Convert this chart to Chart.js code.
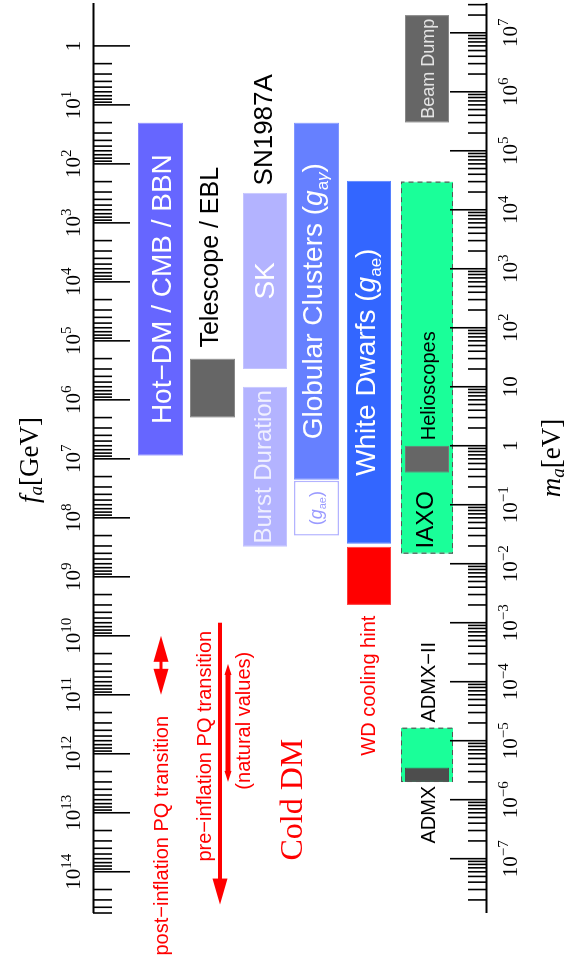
<!DOCTYPE html>
<html>
<head>
<meta charset="utf-8">
<script src="https://cdn.jsdelivr.net/npm/chart.js@4"></script>
<style>
  html, body { margin: 0; padding: 0; background: #fff; }
  body { width: 570px; height: 962px; overflow: hidden; position: relative; }
  /* the plot is laid out in landscape and turned a quarter turn */
  #wrap { position: absolute; left: 0; top: 0; width: 962px; height: 570px;
          transform-origin: 0 0; transform: translate(0, 962px) rotate(-90deg); }
</style>
</head>
<body>
<div id="wrap"><canvas id="plot" width="962" height="570"></canvas></div>
<script>
// f_a [GeV] = FA_MA / m_a [eV]
const FA_MA = 6.0e6;
const MASS_MIN = 1.2e-8, MASS_MAX = 3.2e7;

// excluded / explored ranges of the axion mass, eV
const barNames = ['Hot-DM / CMB / BBN', 'Telescope / EBL', 'SK', 'Burst Duration',
  'Globular Clusters', 'Globular Clusters gae', 'White Dwarfs', 'WD cooling hint',
  'Helioscopes', 'CAST', 'Beam Dump', 'ADMX-II', 'ADMX'];
const massLow  = [0.68, 3.0, 20, 0.0194, 0.265, 0.030, 0.0218, 0.0020, 0.0148, 0.35, 3.0e5, 2.0e-6, 2.0e-6];
const massHigh = [3.0e5, 30, 1.94e4, 10, 3.0e5, 0.255, 3.1e4, 0.0194, 3.0e4, 1.0, 2.0e7, 1.66e-5, 3.5e-6];
const barLane  = [0, 1, 2, 2, 3, 3, 4, 4, 5, 5, 5, 5, 5];

// axis ticks
const massTicks = [1e-7, 1e-6, 1e-5, 1e-4, 1e-3, 1e-2, 1e-1, 1, 10, 1e2, 1e3, 1e4, 1e5, 1e6, 1e7];
const massTickLabels = ['10^−7', '10^−6', '10^−5', '10^−4', '10^−3', '10^−2', '10^−1', '1', '10',
  '10^2', '10^3', '10^4', '10^5', '10^6', '10^7'];
const faTicks = [1, 1e1, 1e2, 1e3, 1e4, 1e5, 1e6, 1e7, 1e8, 1e9, 1e10, 1e11, 1e12, 1e13, 1e14];
const faTickLabels = ['1', '10^1', '10^2', '10^3', '10^4', '10^5', '10^6', '10^7', '10^8', '10^9',
  '10^10', '10^11', '10^12', '10^13', '10^14'];

// red arrows, ranges in f_a [GeV]
const arrowNames = ['post-inflation', 'pre-inflation', 'natural values'];
const arrowFaLow  = [1e10, 6e9, 3e10];
const arrowFaHigh = [1e11, 3.6e14, 3e12];

// free labels, centred at a mass [eV]
const noteText = ['Telescope / EBL', 'SN1987A', 'Helioscopes', 'IAXO', 'ADMX−II', 'ADMX',
  'WD cooling hint', 'post−inflation PQ transition', 'pre−inflation PQ transition',
  '(natural values)', 'Cold DM'];
const noteMass = [1.57e3, 2.27e5, 10.4, 0.0557, 9.8e-5, 5.57e-7, 8.55e-5, 2.45e-7, 8.07e-6, 2.18e-5, 1.0e-6];

// ---- layout / style ----
const SANS = '"Liberation Sans", Arial, sans-serif';
const SERIF = '"Liberation Serif", "Times New Roman", serif';
const LANES = [160.5, 212.5, 265, 316.5, 369, 427];   // column centres across the plot (px)

const barStyle = {
  'Hot-DM / CMB / BBN':    { bg: '#6666ff', bd: '#8585ff', w: 45 },
  'Telescope / EBL':       { bg: '#666666', bd: '#888888', w: 45 },
  'SK':                    { bg: '#b3b3ff', bd: '#c4c4ff', w: 44 },
  'Burst Duration':        { bg: '#b3b3ff', bd: '#c4c4ff', w: 44 },
  'Globular Clusters':     { bg: '#6680ff', bd: '#8096ff', w: 45 },
  'Globular Clusters gae': { bg: '#ffffff', bd: '#b3b3ff', w: 45 },
  'White Dwarfs':          { bg: '#3366ff', bd: '#5580ff', w: 44 },
  'WD cooling hint':       { bg: '#ff0000', bd: '#ff3b3b', w: 44 },
  'Helioscopes':           { bg: '#1aff99', bd: '#1aff99', w: 52, dashed: true },
  'CAST':                  { bg: '#666666', bd: '#777777', w: 44 },
  'Beam Dump':             { bg: '#666666', bd: '#888888', w: 44 },
  'ADMX-II':               { bg: '#1aff99', bd: '#1aff99', w: 52, dashed: true },
  'ADMX':                  { bg: '#4d4d4d', bd: '#4d4d4d', w: 44 }
};

const sans = (px, it) => (it ? 'italic ' : '') + px + 'px ' + SANS;
const serif = (px, it) => (it ? 'italic ' : '') + px + 'px ' + SERIF;

function gLabel(size, sub, color) {
  const s = Math.round(size * 0.62);
  const parts = [{ t: '(', f: sans(size) }, { t: 'g', f: sans(size, true) }];
  sub.forEach(c => parts.push({ t: c[0], f: sans(s, c[1]), dy: size * 0.2 }));
  parts.push({ t: ')', f: sans(size) });
  parts.forEach(p => p.c = color);
  return parts;
}

// labels written inside the bars: bar name -> [parts, cap centre, cap height]
const barText = {
  'Hot-DM / CMB / BBN': [[{ t: 'Hot−DM / CMB / BBN', f: sans(28), c: '#fff' }], 161, 28],
  'SK': [[{ t: 'SK', f: sans(28), c: '#fff' }], 264, 28],
  'Burst Duration': [[{ t: 'Burst Duration', f: sans(24), c: '#f0f0ff' }], 262.5, 24],
  'Globular Clusters': [[{ t: 'Globular Clusters ', f: sans(28), c: '#fff' }]
    .concat(gLabel(28, [['a', false], ['γ', true]], '#fff')), 312, 28],
  'Globular Clusters gae': [gLabel(18, [['ae', false]], '#9a9aff'), 316, 18],
  'White Dwarfs': [[{ t: 'White Dwarfs ', f: sans(28), c: '#fff' }]
    .concat(gLabel(28, [['ae', false]], '#fff')), 365, 28],
  'Beam Dump': [[{ t: 'Beam Dump', f: sans(18), c: '#e4e4e4' }], 427.5, 18]
};

const noteStyle = [
  { lane: 209, size: 25, c: '#000' }, { lane: 262.5, size: 26, c: '#000' },
  { lane: 427.5, size: 20, c: '#000' }, { lane: 424, size: 24, c: '#000' },
  { lane: 428, size: 20, c: '#000' }, { lane: 427.5, size: 20, c: '#000' },
  { lane: 367.5, size: 20, c: '#f00' }, { lane: 160.5, size: 20, c: '#f00' },
  { lane: 203.5, size: 20, c: '#f00' }, { lane: 243, size: 20, c: '#f00' },
  { lane: 291, size: 32, c: '#f00', serif: true }
];
const arrowStyle = [
  { lane: 161, shaft: 3, head: 26, hw: 15, both: true },
  { lane: 220, shaft: 4, head: 26, hw: 15, both: false },
  { lane: 228, shaft: 5, head: 11, hw: 7, both: true }
];

function richWidth(ctx, parts) {
  let w = 0;
  parts.forEach(p => { ctx.font = p.f; p.w = ctx.measureText(p.t).width; w += p.w; });
  return w;
}
function drawRich(ctx, parts, cx, base) {
  let x = cx - richWidth(ctx, parts) / 2;
  parts.forEach(p => {
    ctx.font = p.f; ctx.fillStyle = p.c || '#000';
    ctx.fillText(p.t, x, base + (p.dy || 0));
    x += p.w;
  });
}
function powParts(lbl, size, supSize, rise) {
  const [b, e] = lbl.split('^');
  const parts = [{ t: b, f: serif(size) }];
  if (e) parts.push({ t: e, f: serif(supSize), dy: -rise });
  return parts;
}
function minorTicks(lo, hi) {
  const out = [];
  for (let e = Math.floor(Math.log10(lo)); e <= Math.ceil(Math.log10(hi)); e++) {
    for (let k = 2; k <= 9; k++) {
      const v = k * Math.pow(10, e);
      if (v >= lo && v <= hi) out.push(v);
    }
  }
  return out;
}

const decor = {
  id: 'axionDecor',
  afterDatasetsDraw(chart) {
    const ctx = chart.ctx;
    const xs = chart.scales.x, fs = chart.scales.x2, ys = chart.scales.y;
    const a = chart.chartArea;
    ctx.save();

    // dashed outlines of the experimental reach boxes
    chart.data.datasets.forEach((ds, i) => {
      if (!barStyle[ds.label].dashed) return;
      const p = chart.getDatasetMeta(i).data[0].getProps(['x', 'y', 'base', 'height'], true);
      const x0 = Math.min(p.x, p.base), x1 = Math.max(p.x, p.base);
      ctx.setLineDash([5, 4]); ctx.lineWidth = 1.2; ctx.strokeStyle = '#555';
      ctx.strokeRect(x0 + 0.5, p.y - p.height / 2 + 0.5, x1 - x0 - 1, p.height - 1);
    });
    ctx.setLineDash([]);

    // texts inside bars
    chart.data.datasets.forEach((ds, i) => {
      const bt = barText[ds.label];
      if (!bt) return;
      const p = chart.getDatasetMeta(i).data[0].getProps(['x', 'base'], true);
      drawRich(ctx, bt[0], (p.x + p.base) / 2, ys.getPixelForValue(bt[1]) + bt[2] * 0.358);
    });

    // free labels
    noteText.forEach((t, i) => {
      const s = noteStyle[i];
      const f = s.serif ? serif(s.size) : sans(s.size);
      drawRich(ctx, [{ t, f, c: s.c }], xs.getPixelForValue(noteMass[i]),
        ys.getPixelForValue(s.lane) + s.size * (s.serif ? 0.331 : 0.358));
    });

    // arrows
    ctx.fillStyle = '#f00'; ctx.strokeStyle = '#f00';
    arrowNames.forEach((n, i) => {
      const s = arrowStyle[i];
      const y = ys.getPixelForValue(s.lane);
      const xa = fs.getPixelForValue(arrowFaLow[i]);   // larger x (small f_a)
      const xb = fs.getPixelForValue(arrowFaHigh[i]);  // smaller x (large f_a)
      ctx.lineWidth = s.shaft;
      ctx.beginPath();
      ctx.moveTo(s.both ? xa - s.head * 0.8 : xa, y);
      ctx.lineTo(xb + s.head * 0.8, y);
      ctx.stroke();
      const head = (tip, dir) => {
        ctx.beginPath();
        ctx.moveTo(tip, y);
        ctx.lineTo(tip + dir * s.head, y - s.hw / 2);
        ctx.lineTo(tip + dir * s.head, y + s.hw / 2);
        ctx.closePath(); ctx.fill();
      };
      head(xb, 1);
      if (s.both) head(xa, -1);
    });

    // axes
    ctx.strokeStyle = '#000'; ctx.fillStyle = '#000';
    ctx.lineWidth = 2.2;
    ctx.beginPath();
    ctx.moveTo(a.left, a.top + 0.5); ctx.lineTo(a.right, a.top + 0.5);
    ctx.moveTo(a.left, a.bottom - 0.5); ctx.lineTo(a.right, a.bottom - 0.5);
    ctx.stroke();

    const tick = (x, y0, len) => { ctx.moveTo(x, y0); ctx.lineTo(x, y0 + len); };
    ctx.lineWidth = 1.6;
    ctx.beginPath();
    minorTicks(MASS_MIN, MASS_MAX).forEach(v => tick(xs.getPixelForValue(v), a.bottom, -19));
    massTicks.forEach(v => tick(xs.getPixelForValue(v), a.bottom, -37));
    minorTicks(faTicks[0], FA_MA / MASS_MIN).forEach(v => tick(fs.getPixelForValue(v), a.top, 19));
    faTicks.forEach(v => tick(fs.getPixelForValue(v), a.top, 37));
    ctx.stroke();

    // tick labels
    massTicks.forEach((v, i) =>
      drawRich(ctx, powParts(massTickLabels[i], 21, 15, 9), xs.getPixelForValue(v), 517));
    faTicks.forEach((v, i) =>
      drawRich(ctx, powParts(faTickLabels[i], 21, 15, 9), fs.getPixelForValue(v), 80));

    // axis titles
    drawRich(ctx, [{ t: 'f', f: serif(27, true) }, { t: 'a', f: serif(19, true), dy: 4 },
      { t: '[GeV]', f: serif(27) }], 502, 38);
    drawRich(ctx, [{ t: 'm', f: serif(27, true) }, { t: 'a', f: serif(19, true), dy: 4 },
      { t: '[eV]', f: serif(27) }], 504, 560);

    ctx.restore();
  }
};

// later entries are painted over earlier ones
const datasets = barNames.map((name, i) => ({
  label: name,
  data: [{ x: [massLow[i], massHigh[i]], y: LANES[barLane[i]] }],
  backgroundColor: barStyle[name].bg,
  borderColor: barStyle[name].bd,
  borderWidth: name === 'Globular Clusters gae' ? 1.5 : 1,
  borderSkipped: false,
  maxBarThickness: barStyle[name].w,
  barPercentage: 1.2,
  categoryPercentage: 1,
  grouped: false,
  order: barNames.length - i
}));

new Chart(document.getElementById('plot'), {
  type: 'bar',
  data: { datasets },
  options: {
    indexAxis: 'y',
    responsive: false,
    animation: false,
    devicePixelRatio: 1,
    layout: { padding: { left: 49, right: 3, top: 93, bottom: 83 } },
    plugins: { legend: { display: false }, tooltip: { enabled: false } },
    scales: {
      x: { type: 'logarithmic', min: MASS_MIN, max: MASS_MAX, display: false },
      x2: { type: 'logarithmic', position: 'top', reverse: true,
            min: FA_MA / MASS_MAX, max: FA_MA / MASS_MIN, display: false },
      y: { type: 'linear', min: 93, max: 487, reverse: true, offset: false, display: false,
           afterBuildTicks: s => { s.ticks = [{ value: 93 }, { value: 487 }]; } }
    }
  },
  plugins: [decor]
});
</script>
</body>
</html>
